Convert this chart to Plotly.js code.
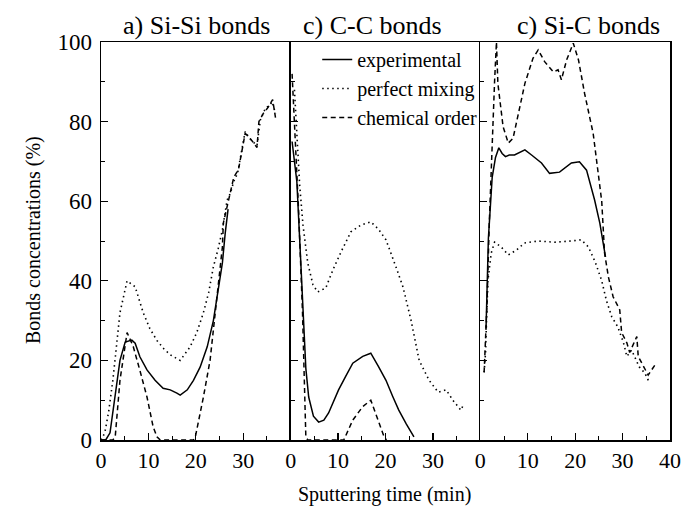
<!DOCTYPE html>
<html>
<head>
<meta charset="utf-8">
<script src="https://cdn.plot.ly/plotly-3.0.1.min.js"></script>
<style>
html,body{margin:0;padding:0;background:#fff;}
#chart{width:686px;height:517px;}
</style>
</head>
<body>
<div id="chart"></div>
<script>
// ---- Data ----
const seriesNames = ["experimental", "perfect mixing", "chemical order"];
const panelTitles = ["a) Si-Si bonds", "c) C-C bonds", "c) Si-C bonds"];
const xTicksPanel12 = [0, 10, 20, 30];
const xTicksPanel3 = [0, 10, 20, 30, 40];
const yTicks = [0, 20, 40, 60, 80, 100];

// a) Si-Si bonds
const siSiExpTime = [0, 1, 1.9, 3, 4, 5.1, 6.5, 7.2, 8.2, 9.7, 11.4, 13.1, 14.6, 16, 16.7, 18.2, 19.5, 20.9, 22.4, 23.7, 24.7, 25.6, 26.2, 26.8];
const siSiExp = [0, 0, 1.8, 10.8, 20, 24.6, 25.1, 24.3, 20.9, 17.6, 15, 13, 12.6, 11.8, 11.3, 12.6, 15, 18.3, 23.4, 30, 37.7, 44.5, 52, 58];
const siSiMixTime = [0, 0.8, 1.6, 2.5, 3.3, 4, 5.5, 7.2, 8.9, 10.3, 11.8, 13.2, 14.6, 16.7, 18.8, 20.2, 21.6, 22.7, 23.7, 24.7, 25.6, 26.6, 27.3, 28, 28.8, 29.7, 30.4, 31.1, 32, 32.9, 33.6, 34.7, 35.5, 36.1, 36.8];
const siSiMix = [0, 1.8, 7, 15, 24, 32, 40, 38.5, 32, 28, 25, 23, 21.4, 20, 23.4, 27, 32, 37, 43.5, 48, 52.8, 60.3, 62, 65, 67, 72.9, 77.5, 76, 75, 74, 80.4, 83.4, 84, 85, 82];
const siSiOrdTime = [0, 2.5, 3, 4, 5.5, 6.8, 8.2, 9.7, 11, 11.8, 12.5, 19.5, 19.9, 21.6, 23, 24.1, 24.7, 25.6, 25.8, 26.5, 27.4, 28, 29, 29.7, 30.4, 31, 32, 32.9, 33.3, 34.2, 35.2, 36.2, 36.8];
const siSiOrd = [0, 0, 0.8, 15, 27, 23.5, 17.5, 10.8, 3.3, 0.8, 0, 0, 0.8, 10.8, 20, 32, 40, 48.5, 54.5, 58, 63, 66, 68, 73, 77, 76.5, 75, 73.5, 80, 82, 83.5, 85.5, 81];

// c) C-C bonds
const ccExpTime = [0.3, 1.3, 2, 2.6, 3.2, 3.8, 4.8, 5.9, 7, 8, 10.1, 11.6, 13.1, 15.2, 16.9, 18.5, 20.1, 21.5, 22.8, 24.4, 26];
const ccExp = [75, 65, 48, 32, 18, 10.8, 6, 4.5, 5, 6.8, 12.6, 16, 19.3, 21, 21.8, 18.5, 15, 11, 7.5, 4, 0.8];
const ccMixTime = [0.8, 1.3, 1.9, 2.6, 3.6, 4.7, 5.7, 7.4, 8.9, 10.6, 12.7, 14.8, 16.9, 18.5, 20.1, 22.2, 23.7, 25.4, 27.1, 29.2, 31.1, 32.8, 34.2, 35.9, 36.4];
const ccMix = [88, 76, 64, 54, 44.5, 39, 37.2, 38.2, 42.7, 47.2, 52.3, 54, 54.8, 53, 50.3, 43.5, 38.4, 30, 20, 15, 12, 12.6, 10, 7.5, 8.8];
const ccOrdTime = [0.3, 1, 1.7, 2.5, 3.2, 3.6, 11.2, 13.1, 15.2, 16.9, 18.4, 19.7, 20.2];
const ccOrd = [92, 75, 57, 32, 0.8, 0, 0, 5, 8.4, 10, 5, 0.8, 0];

// c) Si-C bonds
const sicExpTime = [1.2, 1.7, 2.5, 3.2, 3.9, 4.6, 5.3, 6.1, 7.2, 8.7, 9.4, 10.8, 12.9, 14.6, 16.7, 19.2, 20.9, 22.4, 23, 24.1, 25.2, 25.9, 26.4];
const sicExp = [28, 50.7, 66, 71, 73.4, 72, 71.2, 71.6, 71.6, 72.4, 72.9, 71.6, 69.6, 67, 67.3, 69.6, 69.9, 67.8, 65.3, 60.3, 54.5, 49.5, 46];
const sicMixTime = [0.8, 1.1, 1.3, 1.6, 2.3, 3, 4.4, 5.9, 7.6, 9.3, 12.2, 15.6, 19.2, 21.3, 22.8, 24.3, 25.6, 26.6, 27.7, 29, 30.2, 30.9, 31.9, 33.5, 34.7, 35.7];
const sicMix = [17, 22, 30, 40, 47, 49.7, 48.5, 46.5, 47.7, 49.5, 50, 49.7, 50, 50.3, 48.5, 44.5, 40, 35, 31, 28.4, 24.4, 21, 22.6, 18.4, 16.8, 14.3];
const sicOrdTime = [0.8, 1.4, 1.9, 2.5, 3, 3.4, 3.7, 4.8, 5.9, 6.9, 8, 9.4, 11.1, 12.2, 13.6, 15.4, 16.4, 17.1, 18.2, 19.6, 20.7, 22, 23.8, 24.9, 25.6, 26.2, 27, 28, 29.4, 29.8, 30.9, 31.5, 33, 33.3, 34.4, 35.4, 36.8];
const sicOrd = [17, 34, 55, 76, 90, 100, 89.6, 78.7, 74.6, 75.8, 82, 89.6, 95.9, 98, 95, 92.5, 93, 90.5, 95.5, 99.7, 95.5, 87, 77, 67, 60, 47, 41, 36, 32.7, 27, 24.4, 22, 26, 21, 18.4, 16.3, 18.8];

// ---- Styles ----
const FONT = "Liberation Serif";
const lineStyles = [
  {color: "#000", width: 1.5, dash: "solid"},
  {color: "#000", width: 1.6, dash: "1.5px,3.5px"},
  {color: "#000", width: 1.5, dash: "5px,3.5px"}
];

const panelDefs = [
  {xa: "x", ya: "y", data: [[siSiExpTime, siSiExp], [siSiMixTime, siSiMix], [siSiOrdTime, siSiOrd]]},
  {xa: "x2", ya: "y2", data: [[ccExpTime, ccExp], [ccMixTime, ccMix], [ccOrdTime, ccOrd]]},
  {xa: "x3", ya: "y3", data: [[sicExpTime, sicExp], [sicMixTime, sicMix], [sicOrdTime, sicOrd]]}
];

const plotTraces = [];
panelDefs.forEach((p, pi) => {
  p.data.forEach((d, si) => {
    plotTraces.push({
      type: "scatter", mode: "lines",
      x: d[0], y: d[1],
      xaxis: p.xa, yaxis: p.ya,
      name: seriesNames[si],
      showlegend: pi === 0,
      line: lineStyles[si],
      hoverinfo: "skip"
    });
  });
});

function makeX(domain, anchor, ticks) {
  return {
    domain: domain, anchor: anchor, range: [0, 40],
    tickvals: ticks, ticktext: ticks.map(String),
    ticks: "inside", ticklen: 7, tickwidth: 1.2, tickcolor: "#000",
    minor: {ticks: "inside", tickvals: [5, 15, 25, 35], ticklen: 4, tickwidth: 1, tickcolor: "#000"},
    showline: true, mirror: true, linecolor: "#000", linewidth: 1.5,
    showgrid: false, zeroline: false,
    tickfont: {family: FONT, size: 22, color: "#000"}
  };
}
function makeY(anchor, labels, mirror) {
  return {
    anchor: anchor, range: [0, 100],
    tickvals: yTicks, ticktext: yTicks.map(String), showticklabels: labels,
    ticks: "inside", ticklen: 7, tickwidth: 1.2, tickcolor: "#000",
    ticklabelstandoff: 3,
    minor: {ticks: "inside", tickvals: [10, 30, 50, 70, 90], ticklen: 4, tickwidth: 1, tickcolor: "#000"},
    showline: true, mirror: mirror, linecolor: "#000", linewidth: 1.5,
    showgrid: false, zeroline: false,
    tickfont: {family: FONT, size: 23, color: "#000"}
  };
}

const layout = {
  width: 686, height: 517,
  margin: {l: 101, r: 16, t: 42, b: 77, pad: 0},
  paper_bgcolor: "#fff", plot_bgcolor: "#fff",
  font: {family: FONT, size: 18, color: "#000"},
  xaxis: makeX([0, 1/3], "y", xTicksPanel12),
  xaxis2: makeX([1/3, 2/3], "y2", xTicksPanel12),
  xaxis3: makeX([2/3, 1], "y3", xTicksPanel3),
  yaxis: makeY("x", true, false),
  yaxis2: makeY("x2", false, false),
  yaxis3: makeY("x3", false, true),
  legend: {
    x: 0.38, y: 1.005, xanchor: "left", yanchor: "top",
    bgcolor: "rgba(0,0,0,0)", borderwidth: 0,
    font: {family: FONT, size: 20, color: "#000"},
    tracegroupgap: 0
  },
  annotations: [
    {text: panelTitles[0], xref: "paper", yref: "paper", x: 0.167, y: 1, xanchor: "center", yanchor: "bottom", showarrow: false, font: {family: FONT, size: 26}},
    {text: panelTitles[1], xref: "paper", yref: "paper", x: 0.4767, y: 1, xanchor: "center", yanchor: "bottom", showarrow: false, font: {family: FONT, size: 26}},
    {text: panelTitles[2], xref: "paper", yref: "paper", x: 0.8576, y: 1, xanchor: "center", yanchor: "bottom", showarrow: false, font: {family: FONT, size: 26}},
    {text: "Bonds concentrations (%)", xref: "paper", yref: "paper", x: -0.1195, y: 0.5025, xanchor: "center", yanchor: "middle", textangle: -90, showarrow: false, font: {family: FONT, size: 20}},
    {text: "Sputtering time (min)", xref: "paper", yref: "paper", x: 0.499, y: -0.1357, xanchor: "center", yanchor: "middle", showarrow: false, font: {family: FONT, size: 20}}
  ]
};

Plotly.newPlot("chart", plotTraces, layout, {displayModeBar: false, staticPlot: true});
</script>
</body>
</html>
